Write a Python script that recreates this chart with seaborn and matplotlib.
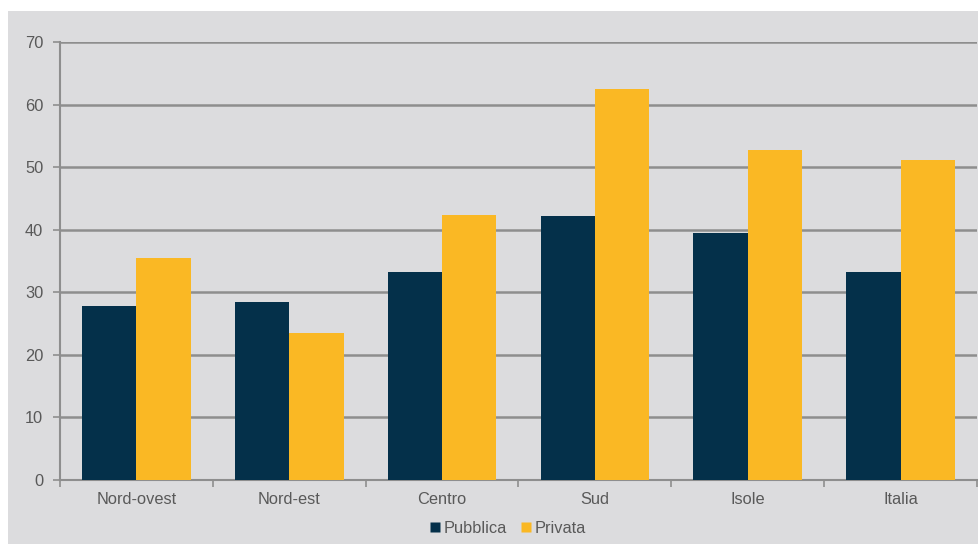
import matplotlib
matplotlib.use("Agg")
import matplotlib.pyplot as plt
from matplotlib.patches import Rectangle
from matplotlib.lines import Line2D
import seaborn as sns
import pandas as pd

# values
regioni = ["Nord-ovest", "Nord-est", "Centro", "Sud", "Isole", "Italia"]
pubblica = [27.8, 28.4, 33.2, 42.2, 39.5, 33.2]
privata = [35.5, 23.5, 42.4, 62.5, 52.8, 51.1]
serie = ["Pubblica", "Privata"]
y_ticks = [0, 10, 20, 30, 40, 50, 60, 70]

df = pd.DataFrame({
    "regione": regioni * 2,
    "serie": [serie[0]] * len(regioni) + [serie[1]] * len(regioni),
    "valore": pubblica + privata,
})

bg = "#dcdcde"
grid = "#8e8e8e"
txt = "#595959"
colori = {"Pubblica": "#04304a", "Privata": "#fab824"}
fs = 11.8

sns.set_theme(style="white")
plt.rcParams["font.family"] = ["Liberation Sans", "DejaVu Sans"]

fig = plt.figure(figsize=(9.79, 5.44), dpi=100, facecolor="white")
# gray panel behind the chart
fig.add_artist(Rectangle((8 / 979, 0), 1 - 8 / 979, 1 - 11 / 544,
                         transform=fig.transFigure, facecolor=bg,
                         edgecolor="none", zorder=-5))
ax = fig.add_axes([60 / 979, 1 - 480 / 544, 917 / 979, 438 / 544])
ax.set_facecolor(bg)

sns.barplot(data=df, x="regione", y="valore", hue="serie", order=regioni,
            hue_order=serie, palette=colori, width=0.71, gap=0,
            saturation=1, edgecolor="none", linewidth=0, ax=ax,
            legend=False, zorder=3)

ax.set_ylim(0, 70)
ax.set_xlim(-0.5, len(regioni) - 0.5)
ax.set_yticks(y_ticks)
ax.yaxis.grid(True, color=grid, linewidth=1.8, zorder=0)
ax.set_axisbelow(True)
ax.set_xlabel("")
ax.set_ylabel("")

for s in ["top", "right"]:
    ax.spines[s].set_visible(False)
for s in ["left", "bottom"]:
    ax.spines[s].set_color(grid)
    ax.spines[s].set_linewidth(1.5)

ax.tick_params(axis="y", length=5, width=1.2, color=grid, labelcolor=txt,
               labelsize=fs, pad=7, left=True)
ax.tick_params(axis="x", which="major", length=0, labelcolor=txt,
               labelsize=fs, pad=9)
ax.set_xticks([i - 0.5 for i in range(len(regioni) + 1)], minor=True)
ax.tick_params(axis="x", which="minor", length=5, width=1.2, color=grid,
               bottom=True)

handles = [Line2D([], [], marker="s", linestyle="none", markersize=7.5,
                  markerfacecolor=colori[k], markeredgecolor="none")
           for k in serie]
fig.legend(handles, serie, loc="center", bbox_to_anchor=(0.517, 0.029),
           ncol=2, frameon=False, handletextpad=0.0, columnspacing=0.7,
           handlelength=1.0, fontsize=fs, labelcolor=txt)

fig.savefig("out.png", dpi=100, facecolor="white")
